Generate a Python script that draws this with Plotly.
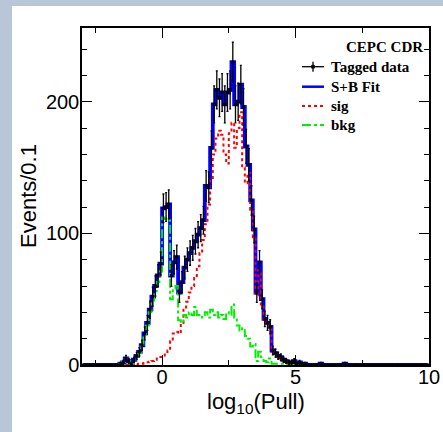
import numpy as np
import plotly.graph_objects as go

# ---------------- data (bins of width 0.1 from -3.0 to 10.0) ----------------
bin_lo = -3.0
bin_w = 0.1
n_bins = 130

# values listed from bin starting at -1.7 up to bin starting at 5.3; other bins are empty
first_filled = -1.7
tagged_data_core = [
    0, 1, 2, 5, 3, 1, 4, 7, 10, 15,           # -1.7 .. -0.8
    24, 32, 42, 52, 60, 68, 77,               # -0.7 .. -0.1
    119, 120, 122, 68, 78, 82, 55, 63, 74, 80,  # 0.0 .. 0.9
    85, 89, 94, 99, 104, 110, 136, 135, 165, 198,  # 1.0 .. 1.9
    209, 203, 207, 198, 207, 209, 230, 198, 200, 213,  # 2.0 .. 2.9
    196, 166, 152, 125, 103, 55, 78, 50, 35, 32,  # 3.0 .. 3.9
    29, 11, 9, 7, 6, 4, 3, 2, 2, 3,            # 4.0 .. 4.9
    1, 2, 1, 1,                                # 5.0 .. 5.3
]
sb_fit_core = [
    0, 1, 2, 5, 3, 1, 4, 7, 10, 15,
    24, 32, 42, 52, 60, 68, 77,
    119, 120, 122, 68, 78, 82, 55, 63, 74, 80,
    85, 89, 94, 99, 104, 110, 136, 135, 165, 198,
    209, 203, 207, 198, 207, 209, 230, 198, 200, 213,
    196, 166, 152, 125, 103, 55, 78, 50, 35, 32,
    29, 11, 9, 7, 6, 4, 3, 2, 2, 3,
    1, 2, 1, 1,
]
sig_core = [
    0, 0, 0, 0, 0, 0, 0, 0.5, 1, 1,
    1.5, 2, 2.5, 3, 4, 5, 6,
    6, 9, 11, 18, 24, 25, 24, 32, 42, 48,
    55, 60, 66, 75, 85, 95, 107, 122, 140, 160,
    172, 178, 175, 160, 153, 176, 184, 165, 180, 192,
    150, 138, 146, 118, 97, 53, 72, 46, 33, 30,
    27, 10, 8, 6, 5, 3, 3, 2, 2, 2,
    1, 1, 1, 0.5,
]
bkg_core = [
    0, 1, 2, 5, 3, 1, 4, 7, 9, 14,
    23, 30, 40, 49, 56, 63, 71,
    112, 111, 110, 50, 58, 60, 34, 32, 38, 36,
    40, 38, 44, 38, 36, 38, 40, 36, 42, 38,
    40, 36, 38, 35, 40, 38, 46, 36, 30, 26,
    28, 22, 20, 14, 16, 3, 10, 6, 3, 2,
    5, 1, 1, 1, 1, 1, 0.5, 0, 0, 0,
    0, 0, 0, 0,
]
# isolated single events further out
extra_events_x = [5.9, 6.8]
extra_events_n = [1, 1]

x_ticks = [0, 5, 10]
y_ticks = [0, 100, 200]

# ---------------- build full histograms ----------------
centers = np.round(bin_lo + bin_w * (np.arange(n_bins) + 0.5), 3)
start = int(round((first_filled - bin_lo) / bin_w))


def full(core):
    arr = np.zeros(n_bins)
    arr[start:start + len(core)] = core
    return arr


data_counts = full(tagged_data_core)
fit_counts = full(sb_fit_core)
for xe, ne in zip(extra_events_x, extra_events_n):
    data_counts[int(round((xe - bin_lo) / bin_w))] = ne
    fit_counts[int(round((xe - bin_lo) / bin_w))] = ne
sig_counts = full(sig_core)
bkg_counts = full(bkg_core)
data_err = np.sqrt(data_counts)

# ---------------- figure ----------------
W, H = 443, 432
L, R, T, B = 82, 14, 28, 67
pw, ph = W - L - R, H - T - B


def px(xp):
    return (xp - L) / pw


def py(yp):
    return (H - B - yp) / ph


fig = go.Figure()
fig.add_trace(go.Scatter(x=centers, y=fit_counts, mode="lines",
                         line=dict(color="#0000ff", width=3.8, shape="hvh"),
                         name="S+B Fit"))
fig.add_trace(go.Scatter(x=centers, y=sig_counts, mode="lines",
                         line=dict(color="#ff0000", width=2, shape="hvh", dash="dot"),
                         name="sig"))
fig.add_trace(go.Scatter(x=centers, y=bkg_counts, mode="lines",
                         line=dict(color="#00ee00", width=2, shape="hvh", dash="dashdot"),
                         name="bkg"))
fig.add_trace(go.Scatter(x=centers, y=data_counts, mode="markers",
                         marker=dict(symbol="square", size=3, color="black"),
                         error_y=dict(type="data", array=data_err, visible=True,
                                      color="black", thickness=1.3, width=1),
                         name="Tagged data"))

axis_font = dict(family="Liberation Sans, Arial", size=20, color="black")
title_font = dict(family="Liberation Sans, Arial", size=22, color="black")
fig.update_xaxes(range=[-3, 10], tickvals=x_ticks, ticktext=[str(v) for v in x_ticks],
                 ticks="inside", ticklen=10, tickwidth=1.2, tickcolor="black",
                 minor=dict(dtick=2.5, tick0=0, ticks="inside", ticklen=5, tickwidth=1.2,
                            tickcolor="black"),
                 showline=True, linecolor="black", linewidth=1.5, mirror="allticks",
                 showgrid=False, zeroline=False, tickfont=axis_font,
                 ticklabelstandoff=-7, automargin=False)
fig.update_yaxes(range=[0, 256], tickvals=y_ticks, ticktext=[str(v) for v in y_ticks],
                 ticks="inside", ticklen=10, tickwidth=1.2, tickcolor="black",
                 minor=dict(dtick=20, tick0=0, ticks="inside", ticklen=5, tickwidth=1.2,
                            tickcolor="black"),
                 showline=True, linecolor="black", linewidth=1.5, mirror="allticks",
                 showgrid=False, zeroline=False, tickfont=axis_font,
                 ticklabelstandoff=-3, automargin=False)

# page frame (light grey strips at top and left)
frame_col = "#b8c6d8"
shapes = [
    dict(type="rect", xref="paper", yref="paper", x0=px(0), x1=px(12), y0=py(H), y1=py(0),
         fillcolor=frame_col, line=dict(width=0), layer="below"),
    dict(type="rect", xref="paper", yref="paper", x0=px(0), x1=px(W), y0=py(6), y1=py(0),
         fillcolor=frame_col, line=dict(width=0), layer="below"),
]

# axis titles
annotations = [
    dict(text="log<sub>10</sub>(Pull)", xref="paper", yref="paper", x=px(255.5), y=py(403),
         xanchor="center", yanchor="middle", showarrow=False, font=title_font, borderpad=0),
    dict(text="Events/0.1", xref="paper", yref="paper", x=px(28), y=py(196),
         xanchor="center", yanchor="middle", showarrow=False, font=title_font, textangle=-90),
]

# legend (drawn by hand to match ROOT layout)
leg_font = dict(family="Liberation Serif, Times New Roman", size=15, color="black", weight="bold")
leg_items = [("Tagged data", 66.7), ("S+B Fit", 86.7), ("sig", 106), ("bkg", 125)]
sx0, sx1, tx = 302, 324, 329
annotations.append(dict(text="CEPC CDR", xref="paper", yref="paper", x=px(425), y=py(47),
                        xanchor="right", yanchor="middle", showarrow=False, font=leg_font))
for name, yy in leg_items:
    annotations.append(dict(text=name, xref="paper", yref="paper", x=px(tx), y=py(yy),
                            xanchor="left", yanchor="middle", showarrow=False, font=leg_font))
# symbols
y_d, y_f, y_s, y_b = [v for _, v in leg_items]
shapes += [
    dict(type="line", xref="paper", yref="paper", x0=px(sx0), x1=px(sx1), y0=py(y_d), y1=py(y_d),
         line=dict(color="black", width=1.3)),
    dict(type="line", xref="paper", yref="paper", x0=px(313), x1=px(313), y0=py(y_d - 5), y1=py(y_d + 5),
         line=dict(color="black", width=1.3)),
    dict(type="rect", xref="paper", yref="paper", x0=px(311.5), x1=px(314.5), y0=py(y_d + 1.5), y1=py(y_d - 1.5),
         fillcolor="black", line=dict(color="black", width=0.5)),
    dict(type="line", xref="paper", yref="paper", x0=px(sx0), x1=px(sx1), y0=py(y_f), y1=py(y_f),
         line=dict(color="#0000ff", width=2.5)),
    dict(type="line", xref="paper", yref="paper", x0=px(sx0), x1=px(sx1), y0=py(y_s), y1=py(y_s),
         line=dict(color="#ff0000", width=2, dash="dot")),
    dict(type="line", xref="paper", yref="paper", x0=px(sx0), x1=px(sx1), y0=py(y_b), y1=py(y_b),
         line=dict(color="#00ee00", width=2, dash="dashdot")),
]

fig.update_layout(width=W, height=H, margin=dict(l=L, r=R, t=T, b=B, pad=0, autoexpand=False),
                  paper_bgcolor="white", plot_bgcolor="white", showlegend=False,
                  shapes=shapes, annotations=annotations)

fig.write_html("out.html")
